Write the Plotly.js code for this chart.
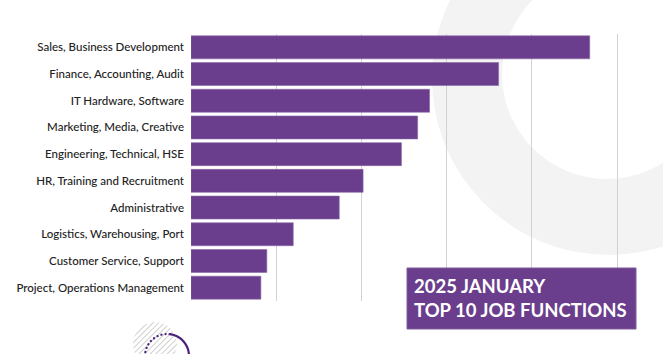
<!DOCTYPE html>
<html>
<head>
<meta charset="utf-8">
<script src="https://cdn.plot.ly/plotly-3.0.1.min.js"></script>
<style>
  html, body { margin: 0; padding: 0; background: #ffffff; }
  #wrap { position: relative; width: 663px; height: 354px; overflow: hidden; }
  #bg { position: absolute; left: 0; top: 0; }
  #chart { position: absolute; left: 0; top: 0; width: 663px; height: 354px; }
</style>
</head>
<body>
<div id="wrap">
  <svg id="bg" width="663" height="354" xmlns="http://www.w3.org/2000/svg">
    <defs>
      <pattern id="hatch" patternUnits="userSpaceOnUse" width="4" height="4" patternTransform="rotate(45)">
        <rect width="4" height="4" fill="#ffffff"/>
        <line x1="0" y1="0" x2="0" y2="4" stroke="#cfcfcf" stroke-width="2"/>
      </pattern>
    </defs>
    <circle cx="609" cy="78" r="177" fill="#f3f3f3"/>
    <circle cx="607" cy="74" r="105" fill="#ffffff"/>
    <circle cx="155" cy="344" r="22" fill="url(#hatch)"/>
    <path d="M145,356 A22,22 0 0 1 170,334.2" fill="none" stroke="#4b2079" stroke-width="2.2" stroke-dasharray="0.1,4" stroke-linecap="round"/>
    <path d="M170,334.2 A22,22 0 0 1 189,356" fill="none" stroke="#4b2079" stroke-width="2.2"/>
  </svg>
  <div id="chart"></div>
</div>
<script>
const categories = [
  "Sales, Business Development",
  "Finance, Accounting, Audit",
  "IT Hardware, Software",
  "Marketing, Media, Creative",
  "Engineering, Technical, HSE",
  "HR, Training and Recruitment",
  "Administrative",
  "Logistics, Warehousing, Port",
  "Customer Service, Support",
  "Project, Operations Management"
];
const values = [468, 361, 280, 266, 247, 202, 174, 120, 89, 82];
const titleLines = ["2025 JANUARY", "TOP 10 JOB FUNCTIONS"];

const W = 663, H = 354;
const M = {l: 191, r: 23, t: 34, b: 53};
const pw = W - M.l - M.r, ph = H - M.t - M.b;
const px = x => (x - M.l) / pw;
const py = y => (H - M.b - y) / ph;

const purple = "#6a3e8c";

const trace = {
  type: "bar",
  orientation: "h",
  y: categories,
  x: values,
  marker: {color: purple, line: {width: 0.6, color: "#8a68a8"}},
  hoverinfo: "x+y"
};

const layout = {
  width: W, height: H,
  margin: M,
  paper_bgcolor: "rgba(0,0,0,0)",
  plot_bgcolor: "rgba(0,0,0,0)",
  showlegend: false,
  bargap: 0.14,
  font: {family: "Lato, 'Open Sans', sans-serif", color: "#222222"},
  xaxis: {
    range: [0, 527],
    dtick: 100,
    showgrid: true,
    gridcolor: "#d2d2d2",
    gridwidth: 1,
    zeroline: false,
    showticklabels: false,
    showline: false,
    fixedrange: true
  },
  yaxis: {
    type: "category",
    autorange: "reversed",
    showgrid: false,
    zeroline: false,
    showline: false,
    ticks: "",
    ticklabelstandoff: 6,
    tickfont: {family: "Lato, sans-serif", size: 11.5, color: "#222222", weight: 500},
    fixedrange: true
  },
  shapes: [{
    type: "rect", xref: "paper", yref: "paper",
    x0: px(407), x1: px(636), y0: py(329), y1: py(268),
    fillcolor: purple, line: {color: "#7d5a9c", width: 1}, layer: "above"
  }],
  annotations: [{
    xref: "paper", yref: "paper",
    x: px(412), y: py(273),
    xanchor: "left", yanchor: "top", align: "left",
    showarrow: false,
    text: titleLines.map(s => "<b>" + s + "</b>").join("<br>"),
    font: {family: "Lato, sans-serif", size: 18.5, color: "#ffffff"}
  }]
};

Plotly.newPlot("chart", [trace], layout, {displayModeBar: false, staticPlot: true});
</script>
</body>
</html>
